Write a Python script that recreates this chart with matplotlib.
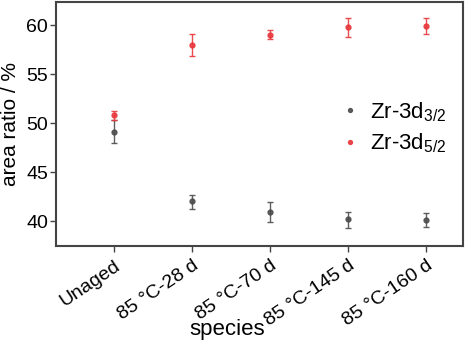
import matplotlib.pyplot as plt
import numpy as np

plt.rcParams['font.family'] = ['Liberation Sans', 'DejaVu Sans']
plt.rcParams['mathtext.fontset'] = 'custom'
plt.rcParams['mathtext.rm'] = 'Liberation Sans'

species = ["Unaged", "85 °C-28 d", "85 °C-70 d", "85 °C-145 d", "85 °C-160 d"]
zr32 = [49.1, 42.0, 40.95, 40.2, 40.1]
zr32_lo = [47.95, 41.2, 39.9, 39.3, 39.4]
zr32_hi = [50.3, 42.65, 41.95, 40.95, 40.8]
zr52 = [50.8, 58.0, 59.0, 59.8, 59.9]
zr52_lo = [50.3, 56.85, 58.55, 58.8, 59.05]
zr52_hi = [51.2, 59.1, 59.45, 60.7, 60.7]

fig = plt.figure(figsize=(4.73, 3.48), dpi=100)
ax = fig.add_axes([0.118, 0.293, 0.861, 0.701])

x = np.arange(len(species))
grey = '#4d4d4d'
red = '#e8383d'

for vals, lo, hi, c, lab in [(zr32, zr32_lo, zr32_hi, grey, 'Zr-3d$_{\\mathrm{3/2}}$'),
                             (zr52, zr52_lo, zr52_hi, red, 'Zr-3d$_{\\mathrm{5/2}}$')]:
    v = np.array(vals)
    err = [v - np.array(lo), np.array(hi) - v]
    ax.errorbar(x, v, yerr=err, fmt='o', color=c, ecolor=c, markersize=3.5,
                capsize=2.5, elinewidth=1, capthick=1, label=lab, alpha=0.9)

ax.set_xlim(-0.74, 4.47)
ax.set_ylim(37.45, 62.35)
ax.set_yticks([40, 45, 50, 55, 60])
ax.set_xticks(x)
ax.set_xticklabels(species, rotation=34, ha='right', rotation_mode='anchor')
ax.tick_params(axis='both', labelsize=14, color='#444444', length=4, width=1)
ax.tick_params(axis='x', pad=4)
ax.tick_params(axis='y', pad=1.5)
for s in ax.spines.values():
    s.set_color('#444444')
    s.set_linewidth(1.5)

ax.set_ylabel('area ratio / %', fontsize=15)
ax.yaxis.set_label_coords(-0.088, 0.5)
ax.set_xlabel('species', fontsize=16)
ax.xaxis.set_label_coords(0.42, -0.30)

h, l = ax.get_legend_handles_labels()
h = [hh[0] for hh in h]
ax.legend(h, l, loc='center left', bbox_to_anchor=(0.645, 0.486), frameon=False,
          fontsize=16, handletextpad=0.4, labelspacing=0.35, handlelength=1.0,
          markerscale=0.8)

fig.savefig('out.png', dpi=100)
